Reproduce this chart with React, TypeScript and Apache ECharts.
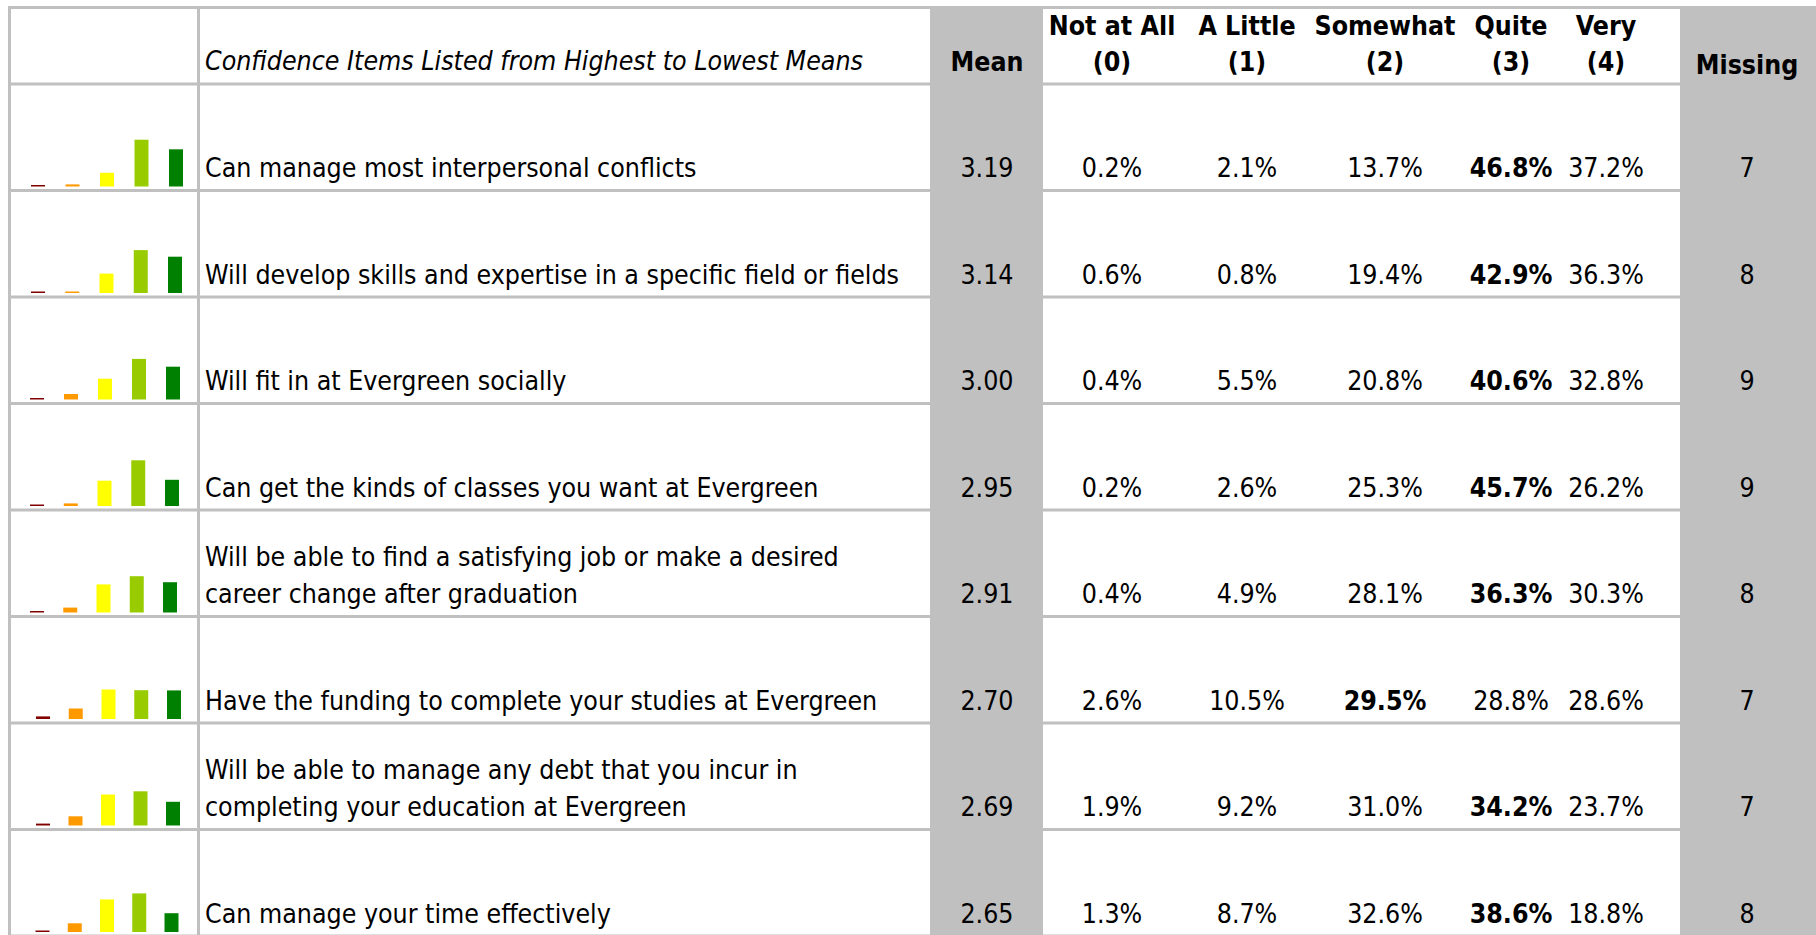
import React, { useEffect, useRef } from 'react';
import * as echarts from 'echarts';

// ---------- data ----------
const items = [
  'Can manage most interpersonal conflicts',
  'Will develop skills and expertise in a specific field or fields',
  'Will fit in at Evergreen socially',
  'Can get the kinds of classes you want at Evergreen',
  'Will be able to find a satisfying job or make a desired\ncareer change after graduation',
  'Have the funding to complete your studies at Evergreen',
  'Will be able to manage any debt that you incur in\ncompleting your education at Evergreen',
  'Can manage your time effectively',
];
const means = [3.19, 3.14, 3.0, 2.95, 2.91, 2.7, 2.69, 2.65];
const notAtAll = [0.2, 0.6, 0.4, 0.2, 0.4, 2.6, 1.9, 1.3];
const aLittle = [2.1, 0.8, 5.5, 2.6, 4.9, 10.5, 9.2, 8.7];
const somewhat = [13.7, 19.4, 20.8, 25.3, 28.1, 29.5, 31.0, 32.6];
const quite = [46.8, 42.9, 40.6, 45.7, 36.3, 28.8, 34.2, 38.6];
const very = [37.2, 36.3, 32.8, 26.2, 30.3, 28.6, 23.7, 18.8];
const missing = [7, 8, 9, 9, 8, 7, 7, 8];

const levelNames = ['Not at All', 'A Little', 'Somewhat', 'Quite', 'Very'];
const levelCodes = ['(0)', '(1)', '(2)', '(3)', '(4)'];
const levelColors = ['#800000', '#FF9900', '#FFFF00', '#99CC00', '#008000'];
const itemsHeader = 'Confidence Items Listed from Highest to Lowest Means';
const meanHeader = 'Mean';
const missingHeader = 'Missing';

// ---------- layout ----------
const W = 1816;
const H = 935;
const LINE = '#C0C0C0';
const FONT = "'DejaVu Sans Condensed', 'DejaVu Sans', sans-serif";
const FS = 26.5;
const rowLine = (k: number) => 84 + k * 106.5;
const MEAN_X = [930, 1043];
const MISS_X = [1680, 1816];
const meanCx = 987;
const levelCx = [1112, 1247, 1385, 1511, 1606];
const missCx = 1747;
const labelX = 205;
const sparkFirst = [38, 38, 37, 37, 37, 43, 43, 42.5];
const sparkLast = [176, 175, 173, 172, 170, 174, 173, 171.5];

export default function App() {
  const ref = useRef<HTMLDivElement>(null);
  useEffect(() => {
    if (!ref.current) return;
    const chart = echarts.init(ref.current, undefined, { renderer: 'svg', width: W, height: H });
    const dist = [notAtAll, aLittle, somewhat, quite, very];
    const n = items.length;

    const txt = (text: string, x: number, y: number, opts: any = {}) => ({
      type: 'text',
      z: 10,
      style: {
        text,
        x,
        y,
        fill: '#000',
        fontFamily: FONT,
        fontSize: FS,
        fontWeight: opts.bold ? 'bold' : 'normal',
        fontStyle: opts.italic ? 'italic' : 'normal',
        textAlign: opts.align || 'center',
        textVerticalAlign: 'middle',
      },
    });
    const ln = (x1: number, y1: number, x2: number, y2: number) => ({
      type: 'line',
      z: 0,
      shape: { x1, y1, x2, y2 },
      style: { stroke: LINE, lineWidth: 3 },
    });

    const graphics: any[] = [];
    graphics.push(ln(8, 7.5, W, 7.5));
    graphics.push(ln(9.5, 6, 9.5, H));
    graphics.push(ln(198.5, 6, 198.5, H));
    for (let k = 0; k <= n; k++) graphics.push(ln(8, rowLine(k), W, rowLine(k)));
    graphics.push({ type: 'rect', z: 1, shape: { x: MEAN_X[0], y: 6, width: MEAN_X[1] - MEAN_X[0], height: H }, style: { fill: LINE } });
    graphics.push({ type: 'rect', z: 1, shape: { x: MISS_X[0], y: 6, width: MISS_X[1] - MISS_X[0], height: H }, style: { fill: LINE } });

    // header
    graphics.push(txt(itemsHeader, labelX, 60, { italic: true, align: 'left' }));
    graphics.push(txt(meanHeader, meanCx, 61, { bold: true }));
    levelNames.forEach((nm, j) => {
      graphics.push(txt(nm, levelCx[j], 25.5, { bold: true }));
      graphics.push(txt(levelCodes[j], levelCx[j], 61, { bold: true }));
    });
    graphics.push(txt(missingHeader, missCx, 64.5, { bold: true }));

    // rows
    for (let i = 0; i < n; i++) {
      const yLast = rowLine(i + 1) - 23;
      const lines = items[i].split('\n');
      lines.forEach((l, li) => {
        graphics.push(txt(l, labelX, yLast - (lines.length - 1 - li) * 37, { align: 'left' }));
      });
      graphics.push(txt(means[i].toFixed(2), meanCx, yLast));
      const vals = dist.map((a) => a[i]);
      const mx = Math.max(...vals);
      vals.forEach((v, j) => {
        graphics.push(txt(v.toFixed(1) + '%', levelCx[j], yLast, { bold: v === mx }));
      });
      graphics.push(txt(String(missing[i]), missCx, yLast));
    }

    const grids: any[] = [];
    const xAxes: any[] = [];
    const yAxes: any[] = [];
    const series: any[] = [];
    for (let i = 0; i < n; i++) {
      const sp = (sparkLast[i] - sparkFirst[i]) / 4;
      const base = rowLine(i + 1) - 4;
      grids.push({ left: sparkFirst[i] - sp / 2, width: sp * 5, top: base - 60, height: 60 });
      xAxes.push({ type: 'category', gridIndex: i, data: levelNames, show: false });
      yAxes.push({ type: 'value', gridIndex: i, min: 0, max: 60, show: false });
      series.push({
        type: 'bar',
        xAxisIndex: i,
        yAxisIndex: i,
        barWidth: 14,
        barMinHeight: 1.5,
        silent: true,
        data: dist.map((a, j) => ({ value: a[i], itemStyle: { color: levelColors[j] } })),
      });
    }

    chart.setOption({
      animation: false,
      backgroundColor: '#fff',
      grid: grids,
      xAxis: xAxes,
      yAxis: yAxes,
      series,
      graphic: { elements: graphics },
    });
    return () => chart.dispose();
  }, []);
  return <div ref={ref} style={{ position: 'fixed', left: 0, top: 0, width: W, height: H }} />;
}
